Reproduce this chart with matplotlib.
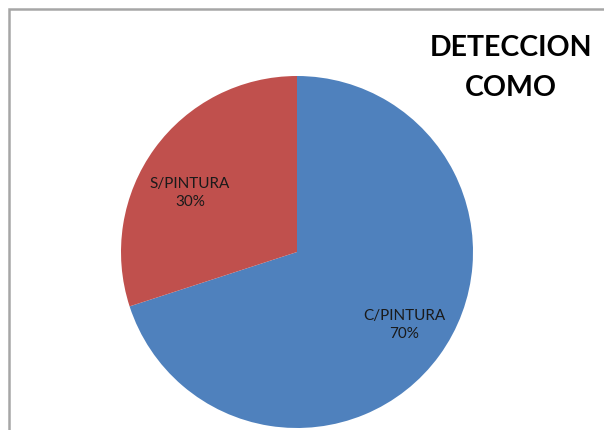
import matplotlib
matplotlib.use("Agg")
import matplotlib.pyplot as plt
from matplotlib.patches import Rectangle

categories = ["C/PINTURA", "S/PINTURA"]
values = [70, 30]
colors = ["#4F81BD", "#C0504D"]
title_lines = ["DETECCION", "COMO"]

W, H = 604, 431
fig = plt.figure(figsize=(W / 100, H / 100), dpi=100)
fig.patch.set_facecolor("white")

# outer chart border (gray, cropped at right/bottom)
fig.add_artist(Rectangle((9 / W, -0.1), 1.2, (H - 10) / H + 0.1, transform=fig.transFigure,
                         fill=False, edgecolor="#A6A6A6", linewidth=1.8))

cx, cy, r = 297, 253, 176
ax = fig.add_axes([(cx - r) / W, (H - cy - r) / H, 2 * r / W, 2 * r / H])
ax.axis("off")

def fmt():
    it = iter(categories)
    def f(p):
        return f"{next(it)}\n{p:.0f}%"
    return f

wedges, texts, autotexts = ax.pie(values, colors=colors, startangle=90, counterclock=False,
                                  autopct=fmt(), pctdistance=0.73, radius=1,
                                  wedgeprops=dict(linewidth=0),
                                  textprops=dict(fontsize=11, family="Lato", color="#1a1a1a",
                                                 linespacing=1.4))
ax.set_aspect("auto")
ax.set_xlim(-1, 1)
ax.set_ylim(-1, 1)

# Excel-style label placement
label_pos = [(0.608, -0.409), (-0.608, 0.341)]
for t, p in zip(autotexts, label_pos):
    t.set_position(p)

fig.text(511 / W, 1 - 68 / H, "\n".join(title_lines), ha="center", va="center",
         fontsize=20.5, fontweight="bold", family="Lato", color="black", linespacing=1.65)

fig.savefig("out.png", dpi=100)
